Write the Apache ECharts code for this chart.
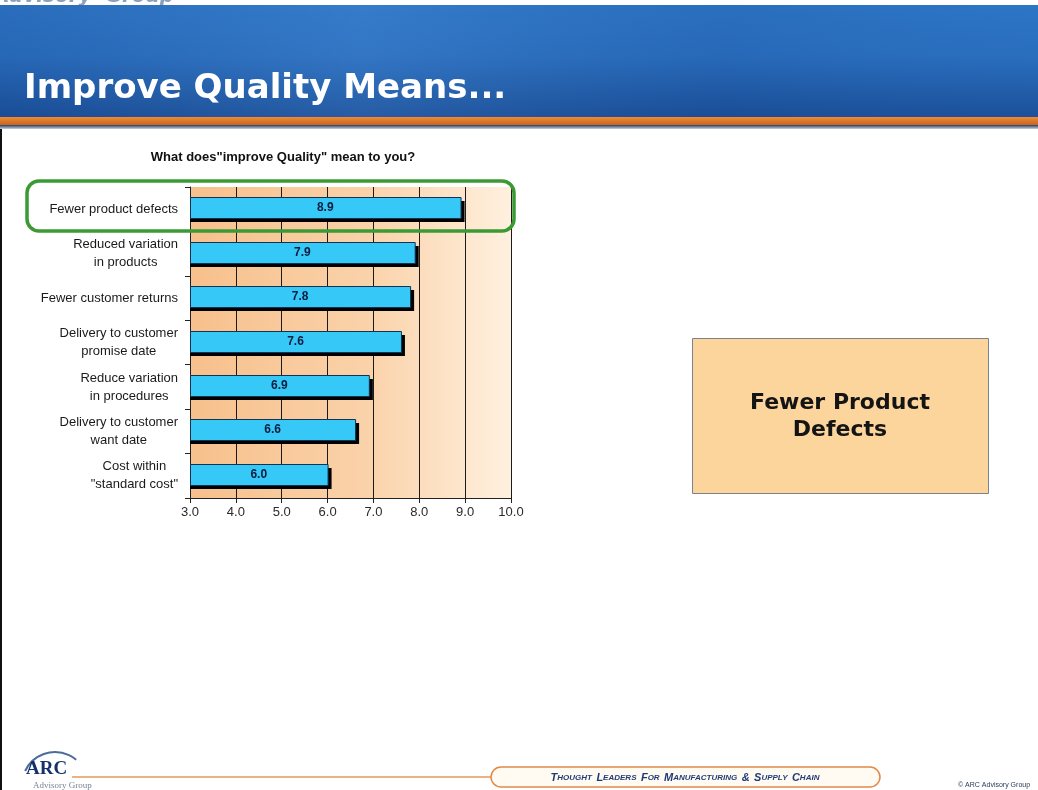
<!DOCTYPE html>
<html>
<head>
<meta charset="utf-8">
<script src="https://cdn.jsdelivr.net/npm/echarts@6/dist/echarts.min.js"></script>
<style>
  html, body { margin: 0; padding: 0; background: #fff; }
  #chart { width: 1038px; height: 790px; }
</style>
</head>
<body>
<div id="chart"></div>
<script>
// chart data
var categories = [
  'Fewer product defects',
  'Reduced variation\nin products',
  'Fewer customer returns',
  'Delivery to customer\npromise date',
  'Reduce variation\nin procedures',
  'Delivery to customer\nwant date',
  'Cost within\n"standard cost"'
];
var scores = [8.9, 7.9, 7.8, 7.6, 6.9, 6.6, 6.0];
var axisMin = 3, axisMax = 10, axisStep = 1;

var slideTitle = 'Improve Quality Means...';
var chartTitle = 'What does"improve Quality" mean to you?';
var calloutText = 'Fewer Product\nDefects';
var tagline = 'THOUGHT LEADERS FOR MANUFACTURING & SUPPLY CHAIN';

var SANS = 'Liberation Sans, Arial, sans-serif';
var VERD = 'DejaVu Sans, Verdana, sans-serif';

// small caps for the footer tagline: first letter big, rest small
function smallCaps(s) {
  return s.split(' ').map(function (w) {
    if (w === '&') return '{b|&}';
    return '{b|' + w.charAt(0) + '}{s|' + w.slice(1) + '}';
  }).join('{s|  }');
}

// bar with a hard black drop shadow, old-Excel style
function renderBar(params, api) {
  var idx = api.value(1);
  var end = api.coord([api.value(0), idx]);
  var start = api.coord([axisMin, idx]);
  var h = 21;
  var top = Math.round(end[1] - 12);
  var w = end[0] - start[0];
  return {
    type: 'group',
    children: [
      { type: 'rect', shape: { x: start[0], y: top + 4, width: w + 4, height: h },
        style: { fill: '#000' } },
      { type: 'rect', shape: { x: start[0] + 0.5, y: top + 0.5, width: w, height: h },
        style: { fill: '#36c9f7', stroke: '#163250', lineWidth: 1 } },
      { type: 'text', x: start[0] + w / 2, y: top + h / 2,
        style: { text: api.value(0).toFixed(1), fill: '#0c1c40',
          font: 'bold 12px ' + SANS, textAlign: 'center', textVerticalAlign: 'middle' } }
    ]
  };
}

var chart = echarts.init(document.getElementById('chart'), null, { renderer: 'canvas' });

chart.setOption({
  animation: false,
  backgroundColor: '#fff',
  grid: {
    left: 190, right: 527, top: 187, bottom: 292,
    show: true,
    borderWidth: 0,
    backgroundColor: new echarts.graphic.LinearGradient(0, 0, 1, 0, [
      { offset: 0, color: '#f7c08c' },
      { offset: 0.55, color: '#fad2a9' },
      { offset: 1, color: '#fff0df' }
    ])
  },
  xAxis: {
    type: 'value',
    min: axisMin, max: axisMax, interval: axisStep,
    axisLine: { show: true, lineStyle: { color: '#222', width: 1 } },
    axisTick: { show: true, length: 5, lineStyle: { color: '#222' } },
    axisLabel: {
      margin: 8, color: '#2a2a2a', fontFamily: SANS, fontSize: 13,
      formatter: function (v) { return v.toFixed(1); }
    },
    splitLine: { show: true, lineStyle: { color: '#1a1a1a', width: 1 } }
  },
  yAxis: {
    type: 'category',
    data: categories,
    inverse: true,
    axisLine: { show: true, lineStyle: { color: '#222', width: 1 } },
    axisTick: { show: true, length: 5, lineStyle: { color: '#222' } },
    axisLabel: {
      margin: 12,
      align: 'right',
      formatter: function (v) {
        return v.split('\n').map(function (l) { return '{c|' + l + '}'; }).join('\n');
      },
      rich: {
        c: { align: 'center', fontFamily: SANS, fontSize: 13, color: '#1a1a1a', lineHeight: 18 }
      }
    },
    splitLine: { show: false }
  },
  series: [{
    type: 'custom',
    renderItem: renderBar,
    encode: { x: 0, y: 1 },
    data: scores.map(function (v, i) { return [v, i]; })
  }],
  graphic: [
    // header band
    { type: 'text', left: -6, top: -13, z: 1,
      style: { text: 'Advisory  Group', fill: '#8da0c0', font: 'italic bold 20px ' + VERD } },
    { type: 'rect', shape: { x: 0, y: 5, width: 1038, height: 113 }, z: 2,
      style: { fill: new echarts.graphic.LinearGradient(0, 0, 0, 1, [
        { offset: 0, color: '#2d76c6' },
        { offset: 0.45, color: '#2a6fbf' },
        { offset: 1, color: '#1b4f98' }
      ]) } },
    { type: 'rect', shape: { x: 0, y: 5, width: 1038, height: 113 }, z: 2,
      style: { fill: new echarts.graphic.LinearGradient(0, 0, 1, 0, [
        { offset: 0, color: 'rgba(20,60,130,0.15)' },
        { offset: 0.35, color: 'rgba(90,150,220,0.18)' },
        { offset: 0.7, color: 'rgba(20,60,130,0.12)' },
        { offset: 1, color: 'rgba(40,100,180,0.05)' }
      ]) } },
    { type: 'rect', shape: { x: 0, y: 117, width: 1038, height: 8 }, z: 3,
      style: { fill: new echarts.graphic.LinearGradient(0, 0, 0, 1, [
        { offset: 0, color: '#f08a38' },
        { offset: 1, color: '#c9641c' }
      ]) } },
    { type: 'rect', shape: { x: 0, y: 125, width: 1038, height: 4 }, z: 3,
      style: { fill: new echarts.graphic.LinearGradient(0, 0, 0, 1, [
        { offset: 0, color: '#243e66' },
        { offset: 1, color: '#c8d0dc' }
      ]) } },
    { type: 'text', x: 24, y: 89, z: 4,
      style: { text: slideTitle, fill: '#fff', font: 'bold 34px ' + VERD,
        textVerticalAlign: 'middle', shadowColor: 'rgba(0,0,30,0.6)', shadowOffsetX: 1, shadowOffsetY: 1, shadowBlur: 2 } },
    // slide left border
    { type: 'rect', shape: { x: 0, y: 129, width: 2, height: 661 }, z: 3, style: { fill: '#111' } },

    // chart title
    { type: 'text', x: 283, y: 157, z: 5,
      style: { text: chartTitle, fill: '#111', font: 'bold 13px ' + SANS,
        textAlign: 'center', textVerticalAlign: 'middle' } },

    // green highlight round the first row
    { type: 'rect', shape: { x: 27, y: 181, width: 487, height: 50, r: 12 }, z: 50,
      style: { fill: 'none', stroke: '#3b9a34', lineWidth: 3.5 } },

    // callout box
    { type: 'rect', shape: { x: 692.5, y: 338.5, width: 296, height: 155 }, z: 5,
      style: { fill: '#fbd59c', stroke: '#7c8292', lineWidth: 1 } },
    { type: 'text', x: 840, y: 417, z: 6,
      style: { text: calloutText, fill: '#141414', font: 'bold 22px ' + VERD,
        textAlign: 'center', textVerticalAlign: 'middle', lineHeight: 27 } },

    // footer logo
    { type: 'arc', shape: { cx: 55, cy: 785, r: 33, startAngle: 3.58, endAngle: 5.41, clockwise: true }, z: 5,
      style: { stroke: '#4a6c9c', lineWidth: 2, fill: 'none' } },
    { type: 'text', x: 26, y: 769, z: 6,
      style: { text: 'ARC', fill: '#14306a', font: 'bold 19px Liberation Serif, serif', textVerticalAlign: 'middle' } },
    { type: 'text', x: 33, y: 786, z: 6,
      style: { text: 'Advisory Group', fill: '#7a8496', font: '9px Liberation Serif, serif', textVerticalAlign: 'middle' } },
    { type: 'line', shape: { x1: 72, y1: 777, x2: 492, y2: 777 }, z: 5,
      style: { stroke: '#e59a5a', lineWidth: 1.5 } },
    { type: 'rect', shape: { x: 491, y: 767, width: 389, height: 20, r: 10 }, z: 5,
      style: { fill: '#fffaf2', stroke: '#e08a48', lineWidth: 1.5 } },
    { type: 'text', x: 685, y: 778, z: 6,
      style: { text: smallCaps(tagline), textAlign: 'center', textVerticalAlign: 'middle',
        rich: {
          b: { fill: '#1f3c78', font: 'italic bold 11px ' + SANS },
          s: { fill: '#1f3c78', font: 'italic bold 8px ' + SANS }
        } } },
    { type: 'text', x: 958, y: 785, z: 6,
      style: { text: '\u00a9 ARC Advisory Group', fill: '#2a3a5a', font: '7px ' + SANS, textVerticalAlign: 'middle' } }
  ]
});
</script>
</body>
</html>
